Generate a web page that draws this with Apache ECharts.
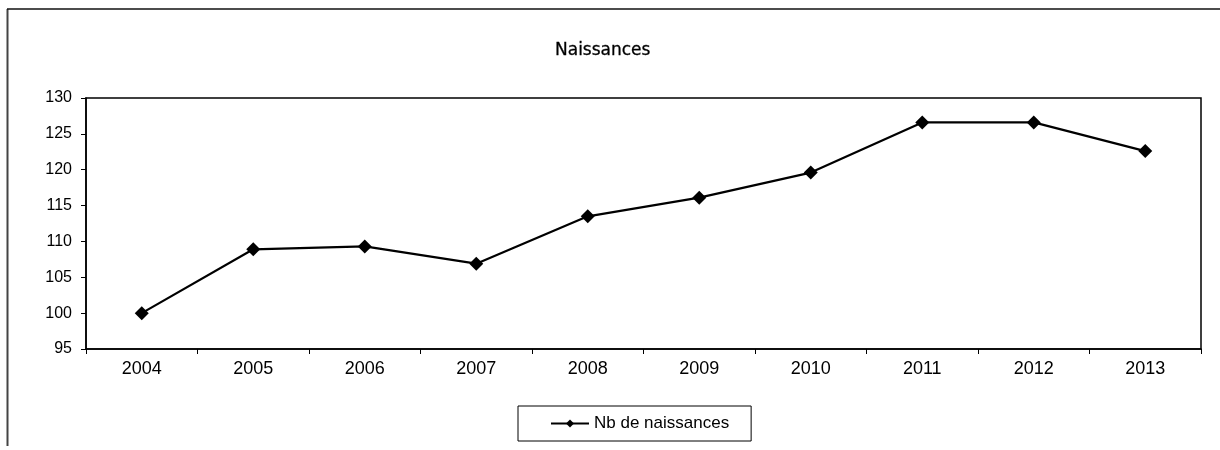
<!DOCTYPE html>
<html>
<head>
<meta charset="utf-8">
<script src="https://cdn.jsdelivr.net/npm/echarts@6/dist/echarts.min.js"></script>
<style>
  html, body { margin: 0; padding: 0; background: #fff; }
  #chart { width: 1220px; height: 450px; }
</style>
</head>
<body>
<div id="chart"></div>
<script>
// Yearly number of births
const years = ['2004', '2005', '2006', '2007', '2008', '2009', '2010', '2011', '2012', '2013'];
const births = [100, 108.9, 109.3, 106.9, 113.5, 116.1, 119.6, 126.6, 126.6, 122.6];
const seriesName = 'Nb de naissances';
const chartTitle = 'Naissances';
const yMin = 95;
const yMax = 130;
const yStep = 5;

const chart = echarts.init(document.getElementById('chart'), null, { renderer: 'canvas' });

chart.setOption({
  animation: false,
  backgroundColor: '#ffffff',
  title: {
    text: chartTitle,
    left: 555,
    top: 42,
    padding: 0,
    textStyle: {
      fontFamily: 'DejaVu Sans',
      fontSize: 17,
      fontWeight: 'normal',
      color: '#000',
      textBorderColor: '#000',
      textBorderWidth: 0.3
    }
  },
  graphic: [
    {
      type: 'line',
      shape: { x1: 7.5, y1: 9, x2: 7.5, y2: 446 },
      style: { stroke: '#444', lineWidth: 2 }
    },
    {
      type: 'line',
      shape: { x1: 7, y1: 9, x2: 1220, y2: 9 },
      style: { stroke: '#111', lineWidth: 1.5 }
    }
  ],
  grid: {
    left: 86,
    right: 19,
    top: 98,
    bottom: 101,
    show: true,
    borderColor: '#000',
    borderWidth: 1.5,
    backgroundColor: 'transparent'
  },
  legend: {
    data: [seriesName],
    left: 518,
    top: 406,
    padding: [9, 22, 9, 32],
    borderColor: '#000',
    borderWidth: 1,
    itemWidth: 38,
    itemHeight: 10,
    itemGap: 0,
    textStyle: {
      fontFamily: 'Liberation Sans',
      fontSize: 17,
      color: '#000'
    }
  },
  xAxis: {
    type: 'category',
    data: years,
    boundaryGap: true,
    axisLine: { show: true, lineStyle: { color: '#000', width: 1.5 } },
    axisTick: { show: true, length: 5, inside: false, lineStyle: { color: '#000' } },
    axisLabel: {
      margin: 11,
      fontFamily: 'Liberation Sans',
      fontSize: 18,
      color: '#000'
    },
    splitLine: { show: false }
  },
  yAxis: {
    type: 'value',
    min: yMin,
    max: yMax,
    interval: yStep,
    axisLine: { show: true, lineStyle: { color: '#000', width: 1.5 } },
    axisTick: { show: true, length: 5, inside: false, lineStyle: { color: '#000' } },
    axisLabel: {
      margin: 14,
      fontFamily: 'Liberation Sans',
      fontSize: 16,
      color: '#000'
    },
    splitLine: { show: false }
  },
  series: [
    {
      name: seriesName,
      type: 'line',
      data: births,
      symbol: 'diamond',
      symbolSize: 14,
      lineStyle: { color: '#000', width: 2.2 },
      itemStyle: { color: '#000' }
    }
  ]
});
</script>
</body>
</html>
